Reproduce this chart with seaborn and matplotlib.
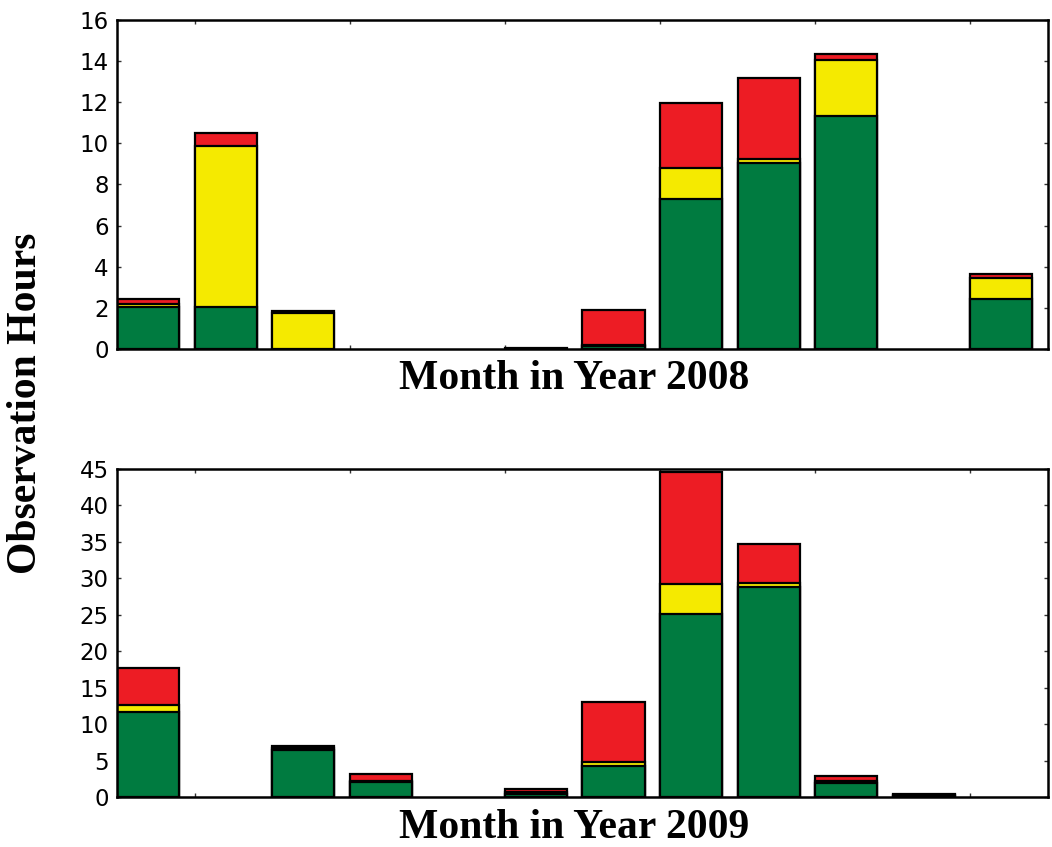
import numpy as np
import pandas as pd
import seaborn as sns
import matplotlib
matplotlib.use('Agg')
import matplotlib.pyplot as plt

months = ['Jan', 'Feb', 'Mar', 'Apr', 'May', 'Jun',
          'Jul', 'Aug', 'Sep', 'Oct', 'Nov', 'Dec']

# observation hours per month, split by quality (green / yellow / red)
green_2008 = [2.05, 2.05, 0.0, 0.0, 0.0, 0.0, 0.12, 7.28, 9.03, 11.33, 0.0, 2.45]
yellow_2008 = [0.15, 7.82, 1.75, 0.0, 0.0, 0.0, 0.05, 1.51, 0.21, 2.73, 0.0, 1.0]
red_2008 = [0.22, 0.63, 0.1, 0.0, 0.0, 0.06, 1.73, 3.19, 3.96, 0.27, 0.0, 0.22]

green_2009 = [11.7, 0.0, 6.45, 2.0, 0.0, 0.4, 4.25, 25.06, 28.77, 1.96, 0.15, 0.0]
yellow_2009 = [0.9, 0.0, 0.25, 0.25, 0.0, 0.3, 0.5, 4.16, 0.55, 0.3, 0.1, 0.0]
red_2009 = [5.05, 0.0, 0.35, 0.85, 0.0, 0.45, 8.3, 15.4, 5.4, 0.67, 0.2, 0.0]

GREEN = '#007b40'
YELLOW = '#f5ea00'
RED = '#ed1c24'

sns.set_style('white')

fig = plt.figure(figsize=(10.52, 8.47), dpi=100)
ax1 = fig.add_axes([0.1112, 0.588, 0.885, 0.3884])
ax2 = fig.add_axes([0.1112, 0.059, 0.885, 0.3873])

label_font = dict(family='Liberation Serif', fontweight='bold', fontsize=30,
                  color='black')


def stacked(ax, green, yellow, red, ymax, ystep, xlabel):
    g = np.array(green)
    gy = g + np.array(yellow)
    tot = gy + np.array(red)
    # draw the cumulative heights on top of each other, tallest first
    for cum, col in [(tot, RED), (gy, YELLOW), (g, GREEN)]:
        df = pd.DataFrame({'month': months,
                           'hours': np.where(cum > 0, cum, np.nan)})
        sns.barplot(data=df, x='month', y='hours', order=months, color=col,
                    saturation=1, edgecolor='black', linewidth=1.6, width=0.8,
                    errorbar=None, ax=ax)
    ax.set_xlim(-0.4, 11.6)
    ax.set_ylim(0, ymax)
    ax.set_yticks(np.arange(0, ymax + 0.1, ystep))
    ax.set_xticks(np.arange(0.6, 11, 2))
    ax.set_xticklabels([])
    ax.tick_params(axis='both', direction='in', length=3, width=1,
                   color='#333333', top=True, right=True, bottom=True, left=True)
    ax.tick_params(axis='y', labelsize=16.5, labelcolor='black', pad=6)
    for lab in ax.get_yticklabels():
        lab.set_family('DejaVu Sans')
    for s in ax.spines.values():
        s.set_color('black')
        s.set_linewidth(1.8)
    ax.set_ylabel('')
    ax.set_xlabel(xlabel, **label_font)
    ax.xaxis.set_label_coords(0.491, -0.035)
    ax.xaxis.label.set_va('top')


stacked(ax1, green_2008, yellow_2008, red_2008, 16, 2, 'Month in Year 2008')
stacked(ax2, green_2009, yellow_2009, red_2009, 45, 5, 'Month in Year 2009')

fig.text(0.025, 1 - 403 / 847, 'Observation Hours', rotation=90,
         ha='center', va='center', **label_font)

fig.savefig('out.png', dpi=100)
